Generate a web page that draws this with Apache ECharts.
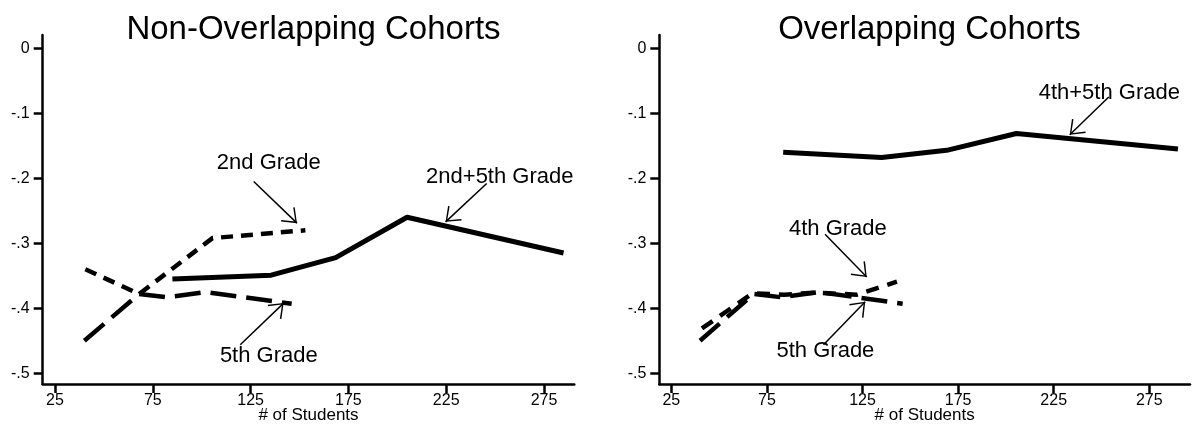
<!DOCTYPE html>
<html>
<head>
<meta charset="utf-8">
<script src="https://cdn.jsdelivr.net/npm/echarts@6/dist/echarts.min.js"></script>
<style>
  html, body { margin: 0; padding: 0; background: #fff; }
  #cohorts { width: 1193px; height: 426px; }
</style>
</head>
<body>
<div id="cohorts"></div>
<script>
// x ticks / y ticks
var xTicks = [25, 75, 125, 175, 225, 275];
var yTicks = [0, -0.1, -0.2, -0.3, -0.4, -0.5];
var yTickLabels = ['0', '-.1', '-.2', '-.3', '-.4', '-.5'];

// left panel: non-overlapping cohorts
var comb25X = [85, 135.5, 168.5, 205, 285];
var comb25Y = [-0.355, -0.349, -0.322, -0.260, -0.315];
var grade2X = [40.5, 68, 105.5, 153];
var grade2Y = [-0.340, -0.378, -0.292, -0.280];
var grade5X = [40, 68, 82.5, 102, 146];
var grade5Y = [-0.450, -0.378, -0.383, -0.375, -0.393];

// right panel: overlapping cohorts
var comb45X = [83.5, 135, 169, 205.5, 290];
var comb45Y = [-0.160, -0.168, -0.157, -0.131, -0.155];
var grade4X = [41, 67.5, 84, 100, 122, 143];
var grade4Y = [-0.431, -0.377, -0.379, -0.376, -0.379, -0.359];

// annotations (text centre, arrow start, arrow tip) in data units
var leftNotes = ['2nd Grade', '5th Grade', '2nd+5th Grade'];
var leftNoteX = [134.3, 134.3, 252.4];
var leftNoteY = [-0.177, -0.473, -0.198];
var leftArrowFrom = [[126.6, -0.205], [119.7, -0.456], [245.7, -0.208]];
var leftArrowTo = [[148.7, -0.269], [141.9, -0.392], [224.7, -0.267]];

var rightNotes = ['4th+5th Grade', '4th Grade', '5th Grade'];
var rightNoteX = [254.1, 112.1, 105.6];
var rightNoteY = [-0.068, -0.278, -0.465];
var rightArrowFrom = [[253.8, -0.075], [105.4, -0.286], [104.6, -0.456]];
var rightArrowTo = [[233.4, -0.133], [127.2, -0.352], [126.4, -0.390]];

var FONT = '"Liberation Sans", Arial, sans-serif';
// open arrow head, tip in the centre of the box
var ARROW = 'path://M10 0 L19.85 12.6 L18.6 13.5 L10 2.2 L1.4 13.5 L0.15 12.6 Z M10 -13.5 L10.01 -13.5 L10 -13.49 Z';

function zip(xs, ys) {
  return xs.map(function (x, i) { return [x, ys[i]]; });
}

function notePoints(texts, xs, ys) {
  return texts.map(function (t, i) {
    return { coord: [xs[i], ys[i]], label: { formatter: t } };
  });
}

function arrowLines(from, to) {
  return from.map(function (f, i) {
    return [{ coord: f }, { coord: to[i] }];
  });
}

function markers(texts, xs, ys, from, to) {
  return {
    markPoint: {
      silent: true,
      symbol: 'circle',
      symbolSize: 1,
      itemStyle: { color: 'rgba(0,0,0,0)' },
      label: { show: true, position: 'inside', color: '#000', fontFamily: FONT, fontSize: 22 },
      data: notePoints(texts, xs, ys)
    },
    markLine: {
      silent: true,
      symbol: ['none', ARROW],
      symbolSize: [19.7, 27],
      label: { show: false },
      lineStyle: { color: '#000', width: 1.5, type: 'solid' },
      emphasis: { disabled: true },
      data: arrowLines(from, to)
    }
  };
}

function xAxisFor(idx, max) {
  return {
    gridIndex: idx,
    type: 'value',
    min: 18.7,
    max: max,
    name: '# of Students',
    nameLocation: 'middle',
    nameGap: 23,
    nameMoveOverlap: false,
    nameTextStyle: { color: '#000', fontFamily: FONT, fontSize: 17 },
    splitLine: { show: false },
    axisLine: { show: true, onZero: false, lineStyle: { color: '#000', width: 2.5 } },
    axisTick: { show: true, customValues: xTicks, length: 9, lineStyle: { color: '#000', width: 2.5 } },
    axisLabel: { customValues: xTicks, margin: 8.5, color: '#000', fontFamily: FONT, fontSize: 16 }
  };
}

function yAxisFor(idx) {
  return {
    gridIndex: idx,
    type: 'value',
    min: -0.5165,
    max: 0.0205,
    splitLine: { show: false },
    axisLine: { show: true, onZero: false, lineStyle: { color: '#000', width: 2.5 } },
    axisTick: { show: true, customValues: yTicks, length: 9, lineStyle: { color: '#000', width: 2.5 } },
    axisLabel: {
      customValues: yTicks,
      margin: 13,
      color: '#000',
      fontFamily: FONT,
      fontSize: 16,
      formatter: function (v) {
        var i = yTicks.findIndex(function (t) { return Math.abs(t - v) < 1e-6; });
        return i >= 0 ? yTickLabels[i] : '';
      }
    }
  };
}

function lineSeries(idx, data, dash, width) {
  return {
    type: 'line',
    xAxisIndex: idx,
    yAxisIndex: idx,
    data: data,
    showSymbol: false,
    symbol: 'none',
    silent: true,
    lineStyle: { color: '#000', width: width, type: dash, join: 'round', cap: 'butt' }
  };
}

var chart = echarts.init(document.getElementById('cohorts'));

var leftSolid = lineSeries(0, zip(comb25X, comb25Y), 'solid', 5);
Object.assign(leftSolid, markers(leftNotes, leftNoteX, leftNoteY, leftArrowFrom, leftArrowTo));
var rightSolid = lineSeries(1, zip(comb45X, comb45Y), 'solid', 5);
Object.assign(rightSolid, markers(rightNotes, rightNoteX, rightNoteY, rightArrowFrom, rightArrowTo));

chart.setOption({
  animation: false,
  backgroundColor: '#fff',
  title: [
    { text: 'Non-Overlapping Cohorts', left: 308.5, top: 8, textAlign: 'center',
      textStyle: { color: '#000', fontFamily: FONT, fontSize: 33, fontWeight: 'normal' } },
    { text: 'Overlapping Cohorts', left: 924.5, top: 8, textAlign: 'center',
      textStyle: { color: '#000', fontFamily: FONT, fontSize: 33, fontWeight: 'normal' } }
  ],
  grid: [
    { left: 42.7, top: 35, width: 531.6, height: 349, containLabel: false, outerBoundsMode: 'none' },
    { left: 659.3, top: 35, width: 530.7, height: 349, containLabel: false, outerBoundsMode: 'none' }
  ],
  xAxis: [xAxisFor(0, 290.5), xAxisFor(1, 296.3)],
  yAxis: [yAxisFor(0), yAxisFor(1)],
  series: [
    leftSolid,
    lineSeries(0, zip(grade2X, grade2Y), [12, 8], 4.5),
    lineSeries(0, zip(grade5X, grade5Y), [26, 10], 4.5),
    rightSolid,
    lineSeries(1, zip(grade4X, grade4Y), [13, 9], 4.5),
    lineSeries(1, zip(grade5X, grade5Y), [26, 10], 4.5)
  ]
});
</script>
</body>
</html>
